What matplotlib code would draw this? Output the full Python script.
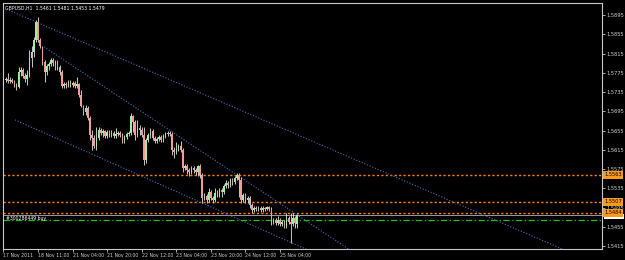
import matplotlib
matplotlib.use("Agg")
import matplotlib.pyplot as plt
import matplotlib.transforms as mtransforms
from matplotlib.patches import Rectangle
import numpy as np

symbol_title = "GBPUSD,H1  1.5461 1.5481 1.5453 1.5479"

opens = [1.5756, 1.5760, 1.5762, 1.5758, 1.5760, 1.5756, 1.5750, 1.5745, 1.5777, 1.5781,
         1.5768, 1.5762, 1.5770, 1.5806, 1.5818, 1.5843, 1.5880, 1.5843, 1.5829, 1.5797,
         1.5777, 1.5789, 1.5793, 1.5802, 1.5795, 1.5797, 1.5787, 1.5777, 1.5747, 1.5752,
         1.5750, 1.5756, 1.5750, 1.5754, 1.5747, 1.5752, 1.5729, 1.5706, 1.5693, 1.5702,
         1.5681, 1.5646, 1.5639, 1.5623, 1.5639, 1.5656, 1.5650, 1.5654, 1.5644, 1.5652,
         1.5648, 1.5650, 1.5644, 1.5648, 1.5650, 1.5646, 1.5633, 1.5642, 1.5648, 1.5650,
         1.5685, 1.5673, 1.5646, 1.5660, 1.5656, 1.5646, 1.5594, 1.5635, 1.5646, 1.5654,
         1.5639, 1.5633, 1.5637, 1.5642, 1.5635, 1.5644, 1.5648, 1.5650, 1.5648, 1.5615,
         1.5610, 1.5617, 1.5623, 1.5615, 1.5577, 1.5581, 1.5573, 1.5569, 1.5577, 1.5573,
         1.5569, 1.5581, 1.5563, 1.5515, 1.5519, 1.5511, 1.5527, 1.5515, 1.5511, 1.5525,
         1.5521, 1.5531, 1.5527, 1.5540, 1.5546, 1.5542, 1.5552, 1.5548, 1.5556, 1.5563,
         1.5552, 1.5511, 1.5521, 1.5511, 1.5515, 1.5500, 1.5490, 1.5494, 1.5492, 1.5494,
         1.5490, 1.5494, 1.5492, 1.5496, 1.5492, 1.5465, 1.5469, 1.5463, 1.5469, 1.5461,
         1.5465, 1.5457, 1.5473, 1.5465, 1.5461, 1.5473, 1.5461]
highs = [1.5764, 1.5766, 1.5775, 1.5766, 1.5764, 1.5760, 1.5754, 1.5787, 1.5787, 1.5785,
         1.5775, 1.5781, 1.5822, 1.5831, 1.5849, 1.5885, 1.5891, 1.5847, 1.5831, 1.5802,
         1.5793, 1.5797, 1.5806, 1.5806, 1.5802, 1.5802, 1.5791, 1.5781, 1.5756, 1.5756,
         1.5760, 1.5760, 1.5758, 1.5758, 1.5766, 1.5754, 1.5739, 1.5708, 1.5708, 1.5706,
         1.5685, 1.5656, 1.5646, 1.5662, 1.5662, 1.5660, 1.5658, 1.5656, 1.5656, 1.5656,
         1.5656, 1.5654, 1.5660, 1.5654, 1.5654, 1.5650, 1.5646, 1.5652, 1.5654, 1.5691,
         1.5687, 1.5677, 1.5677, 1.5667, 1.5662, 1.5662, 1.5639, 1.5650, 1.5660, 1.5658,
         1.5644, 1.5642, 1.5646, 1.5646, 1.5648, 1.5652, 1.5654, 1.5654, 1.5652, 1.5621,
         1.5631, 1.5627, 1.5633, 1.5619, 1.5585, 1.5585, 1.5577, 1.5581, 1.5581, 1.5577,
         1.5583, 1.5585, 1.5567, 1.5525, 1.5523, 1.5536, 1.5531, 1.5519, 1.5536, 1.5531,
         1.5536, 1.5536, 1.5544, 1.5552, 1.5550, 1.5556, 1.5556, 1.5560, 1.5567, 1.5567,
         1.5558, 1.5525, 1.5525, 1.5519, 1.5519, 1.5504, 1.5498, 1.5498, 1.5498, 1.5498,
         1.5498, 1.5496, 1.5498, 1.5498, 1.5496, 1.5473, 1.5473, 1.5477, 1.5473, 1.5469,
         1.5469, 1.5484, 1.5477, 1.5484, 1.5484, 1.5477, 1.5481]
lows = [1.5752, 1.5756, 1.5754, 1.5754, 1.5754, 1.5745, 1.5739, 1.5743, 1.5768, 1.5764,
        1.5756, 1.5750, 1.5766, 1.5787, 1.5808, 1.5839, 1.5839, 1.5826, 1.5791, 1.5756,
        1.5770, 1.5781, 1.5789, 1.5789, 1.5781, 1.5781, 1.5770, 1.5743, 1.5743, 1.5743,
        1.5745, 1.5745, 1.5745, 1.5743, 1.5743, 1.5725, 1.5704, 1.5687, 1.5687, 1.5677,
        1.5635, 1.5615, 1.5619, 1.5615, 1.5635, 1.5646, 1.5642, 1.5639, 1.5639, 1.5642,
        1.5642, 1.5639, 1.5639, 1.5644, 1.5642, 1.5629, 1.5629, 1.5637, 1.5644, 1.5646,
        1.5652, 1.5635, 1.5642, 1.5646, 1.5642, 1.5583, 1.5587, 1.5631, 1.5639, 1.5635,
        1.5629, 1.5629, 1.5633, 1.5631, 1.5631, 1.5639, 1.5644, 1.5644, 1.5604, 1.5598,
        1.5606, 1.5612, 1.5610, 1.5569, 1.5573, 1.5565, 1.5560, 1.5565, 1.5567, 1.5563,
        1.5560, 1.5556, 1.5504, 1.5511, 1.5504, 1.5506, 1.5511, 1.5504, 1.5506, 1.5517,
        1.5517, 1.5517, 1.5523, 1.5536, 1.5536, 1.5538, 1.5542, 1.5544, 1.5552, 1.5517,
        1.5504, 1.5506, 1.5504, 1.5504, 1.5494, 1.5484, 1.5486, 1.5488, 1.5488, 1.5486,
        1.5486, 1.5488, 1.5490, 1.5488, 1.5459, 1.5461, 1.5459, 1.5459, 1.5457, 1.5457,
        1.5452, 1.5452, 1.5461, 1.5421, 1.5457, 1.5452, 1.5453]
closes = [1.5760, 1.5762, 1.5758, 1.5760, 1.5756, 1.5750, 1.5745, 1.5777, 1.5781, 1.5768,
          1.5762, 1.5770, 1.5806, 1.5818, 1.5843, 1.5880, 1.5843, 1.5831, 1.5797, 1.5777,
          1.5789, 1.5793, 1.5802, 1.5795, 1.5797, 1.5787, 1.5777, 1.5747, 1.5752, 1.5750,
          1.5756, 1.5750, 1.5754, 1.5747, 1.5752, 1.5729, 1.5706, 1.5693, 1.5702, 1.5681,
          1.5646, 1.5639, 1.5623, 1.5639, 1.5656, 1.5650, 1.5654, 1.5644, 1.5652, 1.5648,
          1.5650, 1.5644, 1.5648, 1.5650, 1.5646, 1.5633, 1.5642, 1.5648, 1.5650, 1.5685,
          1.5673, 1.5646, 1.5660, 1.5656, 1.5646, 1.5594, 1.5635, 1.5646, 1.5654, 1.5639,
          1.5633, 1.5637, 1.5642, 1.5635, 1.5644, 1.5648, 1.5650, 1.5648, 1.5615, 1.5610,
          1.5617, 1.5623, 1.5615, 1.5577, 1.5581, 1.5573, 1.5569, 1.5577, 1.5573, 1.5569,
          1.5581, 1.5563, 1.5515, 1.5519, 1.5511, 1.5527, 1.5515, 1.5511, 1.5525, 1.5521,
          1.5531, 1.5527, 1.5540, 1.5546, 1.5542, 1.5552, 1.5548, 1.5556, 1.5563, 1.5552,
          1.5511, 1.5521, 1.5511, 1.5515, 1.5500, 1.5490, 1.5494, 1.5492, 1.5494, 1.5490,
          1.5494, 1.5492, 1.5496, 1.5492, 1.5465, 1.5469, 1.5463, 1.5469, 1.5461, 1.5465,
          1.5457, 1.5473, 1.5465, 1.5461, 1.5473, 1.5463, 1.5479]

time_label_bars = [0, 16, 32, 48, 64, 80, 96, 112, 128]
time_labels = ["17 Nov 2011", "18 Nov 11:00", "21 Nov 04:00", "21 Nov 20:00",
               "22 Nov 12:00", "23 Nov 04:00", "23 Nov 20:00", "24 Nov 12:00",
               "25 Nov 04:00"]

price_ticks = [1.5415, 1.5455, 1.5495, 1.5535, 1.5575, 1.5615, 1.5655,
               1.5695, 1.5735, 1.5775, 1.5815, 1.5855, 1.5895]
level_lines = [1.5563, 1.5507, 1.5484]
bid_price = 1.5479
order_price = 1.5469
order_label = "#300286449 buy"

# channel trend lines: (bar, price) anchor pairs
channel_starts = [(2.5, 1.5905), (18.75, 1.5829), (5.3, 1.5677)]
channel_ends = [(257.6, 1.5411), (159.0, 1.5411), (139.8, 1.5409)]

# ---------------------------------------------------------------
FG = "#c8c8c8"
fig = plt.figure(figsize=(6.25, 2.6), dpi=100, facecolor="black")
ax = fig.add_axes([2.5 / 625, 1 - 249 / 260, (602 - 2.5) / 625, (249 - 2.5) / 260])
ax.set_facecolor("black")

n = len(closes)
idx = np.arange(n)
o = np.array(opens); h = np.array(highs); l = np.array(lows); c = np.array(closes)

ax.set_xlim(-0.46, 277.1)
ax.set_ylim(1.54088, 1.5921)

# horizontal levels
for lv in level_lines:
    ax.axhline(lv, color="#ff8000", lw=1.0, ls=(0, (1.6, 1.6)), zorder=1)
ax.axhline(bid_price, color="#9a9a9a", lw=0.7, zorder=1)
ax.axhline(order_price, color="#1fbf1f", lw=0.9, ls=(0, (5, 2, 1, 2)), zorder=1)

# channel lines
for (i1, p1), (i2, p2) in zip(channel_starts, channel_ends):
    slope = (p2 - p1) / (i2 - i1)
    iend = 300
    ax.plot([i1, iend], [p1, p1 + slope * (iend - i1)], color="#4a6fc0",
            lw=0.8, ls=(0, (1, 1.6)), zorder=2)

# candles
ax.vlines(idx, l, h, color="#e6e6e6", lw=0.6, zorder=3)
bull = c >= o
body_bottom = np.minimum(o, c)
body_h = np.maximum(np.abs(c - o), 0.00008)
colors = np.where(bull, "#9ef09e", "#f59a9a")
ax.bar(idx, body_h, bottom=body_bottom, width=0.72, color=colors,
       edgecolor="none", zorder=4)

# axes styling
for sp in ax.spines.values():
    sp.set_color(FG)
    sp.set_linewidth(0.8)
ax.yaxis.tick_right()
ax.set_yticks(price_ticks)
ax.set_yticklabels([f"{p:.4f}" for p in price_ticks])
ax.tick_params(axis="y", colors=FG, labelsize=3.7, length=2, width=0.6,
               pad=1.5, labelcolor="#d0d0d0")
ax.set_xticks(time_label_bars)
ax.set_xticklabels(time_labels, ha="left")
ax.tick_params(axis="x", colors=FG, labelsize=3.3, length=2, width=0.6,
               pad=1.2, labelcolor="#d0d0d0")

# price boxes on right (bid box mostly hidden under the level box)
trans = mtransforms.blended_transform_factory(ax.transAxes, ax.transData)
ax.add_patch(Rectangle((1.003, bid_price - 0.0008), 0.033, 0.0011, transform=trans,
                       facecolor="white", edgecolor="none", clip_on=False, zorder=10))
for lv in level_lines:
    ax.text(1.004, lv, f"{lv:.4f}", transform=trans, fontsize=3.7, color="black",
            va="center", ha="left", clip_on=False, zorder=11,
            bbox=dict(boxstyle="square,pad=0.25", fc="#ff9a1a", ec="none"))

# header and order label
ax.text(0.004, 0.985, symbol_title, transform=ax.transAxes, fontsize=3.3,
        color="white", va="top", ha="left", zorder=12)
ax.text(1.2, (bid_price + order_price) / 2 - 0.0001, order_label, fontsize=3.3,
        color="white", va="center", ha="left", zorder=12)

fig.savefig("out.png", dpi=100, facecolor="black")
